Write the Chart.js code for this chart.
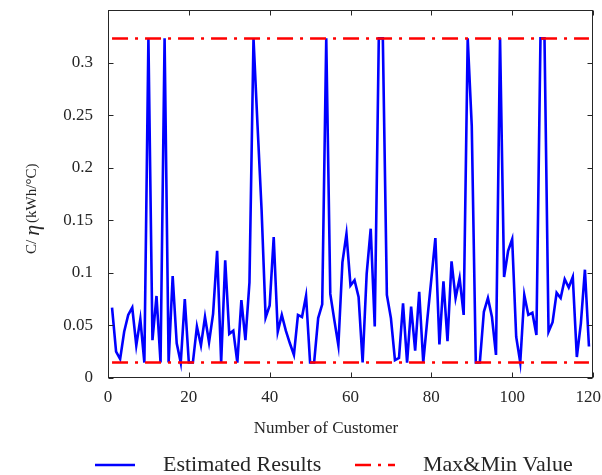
<!DOCTYPE html>
<html>
<head>
<meta charset="utf-8">
<script src="https://cdn.jsdelivr.net/npm/chart.js@4/dist/chart.umd.min.js"></script>
<style>
  html, body { margin: 0; padding: 0; background: #ffffff; }
  #wrap { width: 602px; height: 475px; }
</style>
</head>
<body>
<div id="wrap"><canvas id="chart" width="602" height="475"></canvas></div>
<script>
// Customer index (1..119)
const customerNo = Array.from({ length: 119 }, (_, i) => i + 1);

// Estimated C/eta per customer (kWh/°C)
const estimatedC = [
  0.067, 0.025, 0.018, 0.044, 0.060, 0.067, 0.031, 0.056, 0.0147, 0.323,
  0.036, 0.078, 0.0147, 0.323, 0.0147, 0.097, 0.033, 0.0147, 0.075, 0.0147,
  0.0147, 0.049, 0.031, 0.058, 0.034, 0.061, 0.121, 0.0147, 0.112, 0.042,
  0.045, 0.0147, 0.074, 0.036, 0.091, 0.323, 0.240, 0.160, 0.0575, 0.069,
  0.134, 0.044, 0.060, 0.045, 0.033, 0.022, 0.060, 0.058, 0.078, 0.0147,
  0.0147, 0.057, 0.070, 0.323, 0.080, 0.055, 0.031, 0.110, 0.137, 0.088,
  0.093, 0.077, 0.0147, 0.099, 0.142, 0.049, 0.323, 0.323, 0.079, 0.057,
  0.017, 0.019, 0.071, 0.0147, 0.068, 0.026, 0.082, 0.0147, 0.0556, 0.094,
  0.133, 0.032, 0.092, 0.035, 0.111, 0.076, 0.095, 0.060, 0.323, 0.240,
  0.0147, 0.0147, 0.063, 0.076, 0.058, 0.022, 0.323, 0.096, 0.121, 0.132,
  0.039, 0.0147, 0.079, 0.060, 0.062, 0.041, 0.323, 0.323, 0.044, 0.053,
  0.081, 0.076, 0.094, 0.086, 0.096, 0.020, 0.052, 0.103, 0.030
];

// Upper / lower bounds of C/eta
const maxC = 0.323;
const minC = 0.0147;

// Axis ticks
const xTicks = [0, 20, 40, 60, 80, 100, 120];
const xTickLabels = ['0', '20', '40', '60', '80', '100', '120'];
const yTicks = [0, 0.05, 0.1, 0.15, 0.2, 0.25, 0.3, 0.35];
const yTickLabels = ['0', '0.05', '0.1', '0.15', '0.2', '0.25', '0.3', ''];

// Texts
const seriesLabels = ['Estimated Results', 'Max&Min Value'];
const xTitle = 'Number of Customer';
const yTitleParts = ['C/', '\u03B7', '(kWh/\u00B0C)'];

const SERIF = '"Liberation Serif", "Times New Roman", serif';
const INK = '#262626';

const firstNo = customerNo[0];
const lastNo = customerNo[customerNo.length - 1];

// Box frame with inward tick marks on all four sides
const framePlugin = {
  id: 'frame',
  afterDraw(chart) {
    const { ctx, chartArea: a, scales: { x, y } } = chart;
    const L = Math.round(a.left) + 0.5;
    const R = Math.round(a.right) - 0.5;
    const T = Math.round(a.top) + 0.5;
    const B = Math.round(a.bottom) - 0.5;
    const len = 5;
    ctx.save();
    ctx.strokeStyle = INK;
    ctx.lineWidth = 1;
    ctx.strokeRect(L, T, R - L, B - T);
    ctx.beginPath();
    x.ticks.forEach(t => {
      const px = Math.round(x.getPixelForValue(t.value)) + 0.5;
      ctx.moveTo(px, B); ctx.lineTo(px, B - len);
      ctx.moveTo(px, T); ctx.lineTo(px, T + len);
    });
    y.ticks.forEach(t => {
      const py = Math.round(y.getPixelForValue(t.value)) + 0.5;
      ctx.moveTo(L, py); ctx.lineTo(L + len, py);
      ctx.moveTo(R, py); ctx.lineTo(R - len, py);
    });
    ctx.stroke();
    ctx.restore();
  }
};

// X tick labels (kept inside the canvas) and the x-axis title
const xLabelsPlugin = {
  id: 'xLabels',
  afterDraw(chart) {
    const { ctx, chartArea: a, scales: { x }, width } = chart;
    ctx.save();
    ctx.fillStyle = INK;
    ctx.textBaseline = 'middle';
    ctx.textAlign = 'center';
    ctx.font = '17px ' + SERIF;
    x.ticks.forEach((t, i) => {
      const text = xTickLabels[i];
      const w = ctx.measureText(text).width;
      let px = x.getPixelForValue(t.value);
      px = Math.min(px, width - w / 2 - 1);
      ctx.fillText(text, px, a.bottom + 20);
    });
    ctx.font = '17px ' + SERIF;
    ctx.fillText(xTitle, 326, 429);
    ctx.restore();
  }
};

// Rotated y-axis title with a larger italic eta
const yTitlePlugin = {
  id: 'yTitle',
  afterDraw(chart) {
    const ctx = chart.ctx;
    ctx.save();
    ctx.translate(36, 254);
    ctx.rotate(-Math.PI / 2);
    ctx.fillStyle = INK;
    ctx.textAlign = 'left';
    ctx.textBaseline = 'alphabetic';
    let u = 0;
    ctx.font = '15px ' + SERIF;
    ctx.fillText(yTitleParts[0], u, 0);
    u += ctx.measureText(yTitleParts[0]).width + 4;
    ctx.font = 'italic 22px ' + SERIF;
    ctx.fillText(yTitleParts[1], u, 3);
    u += ctx.measureText(yTitleParts[1]).width + 2;
    ctx.font = '15px ' + SERIF;
    ctx.fillText(yTitleParts[2], u, 0);
    ctx.restore();
  }
};

// Single-row legend under the axis title, styled from the datasets
const legendPlugin = {
  id: 'legendRow',
  afterDraw(chart) {
    const ctx = chart.ctx;
    const ds = chart.data.datasets;
    const entries = [
      { d: ds[0], x0: 95 },
      { d: ds[1], x0: 355 }
    ];
    const yMid = 465;
    const lineLen = 40;
    const gap = 28;
    ctx.save();
    entries.forEach(({ d, x0 }) => {
      ctx.beginPath();
      ctx.strokeStyle = d.borderColor;
      ctx.lineWidth = d.borderWidth;
      ctx.setLineDash(d.borderDash || []);
      ctx.moveTo(x0, yMid);
      ctx.lineTo(x0 + lineLen, yMid);
      ctx.stroke();
      ctx.setLineDash([]);
      ctx.fillStyle = INK;
      ctx.font = '22px ' + SERIF;
      ctx.textAlign = 'left';
      ctx.textBaseline = 'middle';
      ctx.fillText(d.label, x0 + lineLen + gap, yMid);
    });
    ctx.restore();
  }
};

new Chart(document.getElementById('chart'), {
  type: 'line',
  data: {
    datasets: [
      {
        label: seriesLabels[0],
        data: customerNo.map((n, i) => ({ x: n, y: estimatedC[i] })),
        borderColor: '#0000ff',
        borderWidth: 2.6,
        pointRadius: 0,
        tension: 0,
        fill: false,
        order: 2
      },
      {
        label: seriesLabels[1],
        data: [{ x: firstNo, y: maxC }, { x: lastNo, y: maxC }],
        borderColor: '#ff0000',
        borderWidth: 2.5,
        borderDash: [16, 7, 3, 7],
        pointRadius: 0,
        fill: false,
        order: 1
      },
      {
        label: seriesLabels[1] + ' (min)',
        data: [{ x: firstNo, y: minC }, { x: lastNo, y: minC }],
        borderColor: '#ff0000',
        borderWidth: 2.5,
        borderDash: [16, 7, 3, 7],
        pointRadius: 0,
        fill: false,
        order: 1
      }
    ]
  },
  options: {
    responsive: false,
    animation: false,
    devicePixelRatio: 1,
    layout: { padding: { left: 0, right: 9, top: 10, bottom: 0 } },
    plugins: {
      legend: { display: false },
      tooltip: { enabled: false }
    },
    scales: {
      x: {
        type: 'linear',
        min: 0,
        max: 120,
        afterBuildTicks(scale) { scale.ticks = xTicks.map(v => ({ value: v })); },
        afterFit(scale) { scale.height = 97; scale.paddingLeft = 0; scale.paddingRight = 0; },
        grid: { display: false, drawTicks: false },
        border: { display: false },
        ticks: { display: false }
      },
      y: {
        type: 'linear',
        min: 0,
        max: 0.35,
        afterBuildTicks(scale) { scale.ticks = yTicks.map(v => ({ value: v })); },
        afterFit(scale) { scale.width = 108; scale.paddingTop = 0; scale.paddingBottom = 0; },
        grid: { display: false, drawTicks: false },
        border: { display: false },
        ticks: {
          padding: 15,
          color: INK,
          autoSkip: false,
          font: { family: SERIF, size: 17 },
          callback: (v, i) => yTickLabels[i]
        }
      }
    }
  },
  plugins: [framePlugin, xLabelsPlugin, yTitlePlugin, legendPlugin]
});
</script>
</body>
</html>
